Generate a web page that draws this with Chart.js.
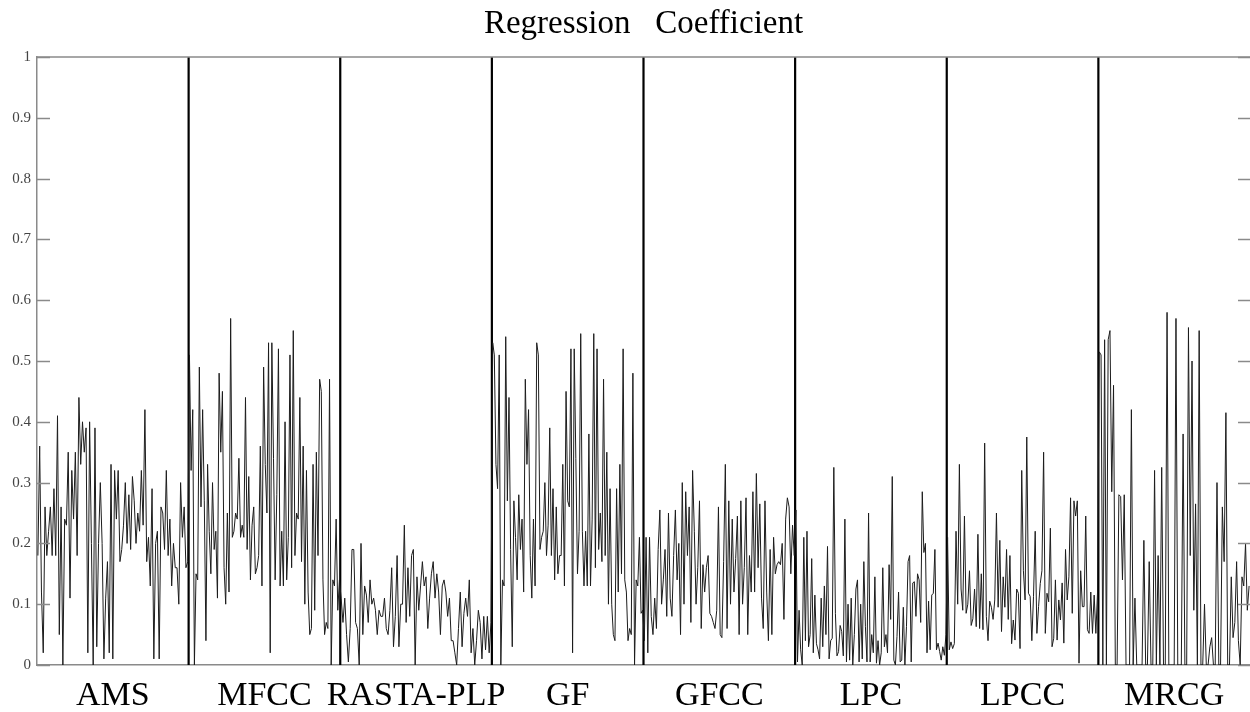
<!DOCTYPE html>
<html>
<head>
<meta charset="utf-8">
<script src="https://cdn.jsdelivr.net/npm/chart.js@4.4.1/dist/chart.umd.min.js"></script>
<style>
    html, body { margin: 0; padding: 0; background: #fff; }
    #wrap { width: 1250px; height: 712px; }
</style>
</head>
<body>
<div id="wrap"><canvas id="regChart"></canvas></div>
<script>
const featureNames = ['AMS', 'MFCC', 'RASTA-PLP', 'GF', 'GFCC', 'LPC', 'LPCC', 'MRCG'];
const yTicks = [0, 0.1, 0.2, 0.3, 0.4, 0.5, 0.6, 0.7, 0.8, 0.9, 1];

const amsValues = [0.18,0.36,0.12,0.02,0.26,0.18,0.22,0.26,0.18,0.29,0.18,0.41,0.05,0.26,0.0,0.24,0.23,0.35,0.11,0.32,0.24,0.35,0.18,0.44,0.33,0.40,0.35,0.39,0.02,0.40,0.20,0.0,0.39,0.03,0.20,0.30,0.20,0.01,0.11,0.17,0.02,0.33,0.01,0.32,0.24,0.32,0.17,0.19,0.23,0.30,0.20,0.28,0.19,0.31,0.27,0.20,0.25,0.22,0.32,0.23,0.42,0.17,0.21,0.13,0.29,0.01,0.20,0.22,0.01,0.26,0.25,0.19,0.32,0.18,0.24,0.13,0.20,0.16,0.16,0.10,0.30,0.21,0.26,0.16,0.17];
const mfccValues = [0.51,0.32,0.42,0.0,0.15,0.14,0.49,0.26,0.42,0.27,0.04,0.33,0.22,0.15,0.30,0.19,0.22,0.11,0.48,0.35,0.45,0.16,0.10,0.25,0.12,0.57,0.21,0.22,0.25,0.24,0.34,0.21,0.23,0.21,0.44,0.19,0.31,0.14,0.23,0.26,0.15,0.16,0.18,0.36,0.13,0.49,0.33,0.25,0.53,0.02,0.53,0.34,0.14,0.28,0.52,0.13,0.22,0.13,0.40,0.14,0.21,0.51,0.16,0.55,0.18,0.25,0.24,0.44,0.17,0.36,0.10,0.32,0.12,0.05,0.06,0.33,0.09,0.35,0.18,0.47,0.45,0.14,0.05,0.07,0.06,0.47,0.0,0.14,0.13,0.24,0.09,0.14];
const rastaValues = [0.11,0.07,0.11,0.05,0.005,0.06,0.19,0.19,0.07,0.06,0.0,0.20,0.05,0.13,0.115,0.07,0.14,0.10,0.11,0.09,0.05,0.09,0.08,0.08,0.11,0.06,0.05,0.09,0.16,0.03,0.08,0.18,0.03,0.10,0.10,0.23,0.07,0.16,0.08,0.18,0.19,0.0,0.145,0.09,0.13,0.17,0.13,0.145,0.06,0.11,0.15,0.17,0.11,0.15,0.12,0.05,0.13,0.14,0.12,0.08,0.11,0.04,0.04,0.02,0.0,0.06,0.12,0.03,0.085,0.11,0.08,0.14,0.02,0.06,0.0,0.04,0.09,0.07,0.01,0.08,0.025,0.08,0.02,0.07];
const gfValues = [0.53,0.51,0.33,0.29,0.51,0.0,0.14,0.13,0.54,0.27,0.44,0.19,0.03,0.27,0.21,0.14,0.28,0.19,0.24,0.12,0.47,0.33,0.42,0.18,0.11,0.24,0.13,0.53,0.51,0.19,0.21,0.22,0.30,0.18,0.23,0.39,0.18,0.29,0.14,0.26,0.15,0.18,0.18,0.33,0.13,0.45,0.27,0.26,0.52,0.02,0.52,0.34,0.15,0.22,0.545,0.22,0.13,0.22,0.13,0.38,0.13,0.24,0.545,0.16,0.52,0.19,0.25,0.17,0.47,0.18,0.35,0.10,0.29,0.10,0.05,0.04,0.29,0.12,0.33,0.15,0.52,0.14,0.12,0.04,0.06,0.05,0.48,0.0,0.14,0.13,0.21,0.085,0.09];
const gfccValues = [0.04,0.21,0.02,0.21,0.08,0.05,0.11,0.06,0.19,0.255,0.10,0.14,0.19,0.08,0.25,0.11,0.08,0.18,0.255,0.14,0.20,0.05,0.30,0.10,0.285,0.18,0.26,0.07,0.32,0.22,0.10,0.16,0.27,0.06,0.165,0.12,0.16,0.18,0.085,0.08,0.07,0.06,0.09,0.26,0.05,0.045,0.17,0.33,0.06,0.27,0.10,0.24,0.12,0.175,0.245,0.05,0.27,0.10,0.16,0.275,0.05,0.18,0.12,0.285,0.12,0.315,0.16,0.265,0.11,0.06,0.27,0.12,0.04,0.19,0.05,0.21,0.15,0.165,0.17,0.165,0.20,0.075,0.24,0.275,0.26,0.15,0.23,0.18];
const lpcValues = [0.255,0.005,0.09,0.025,0.0,0.21,0.04,0.22,0.03,0.05,0.175,0.02,0.115,0.035,0.025,0.01,0.11,0.03,0.13,0.05,0.195,0.01,0.04,0.044,0.325,0.085,0.015,0.022,0.065,0.055,0.015,0.24,0.005,0.10,0.008,0.11,0.0,0.05,0.125,0.14,0.005,0.10,0.01,0.17,0.063,0.005,0.25,0.005,0.05,0.02,0.145,0.003,0.04,0.0,0.02,0.16,0.03,0.05,0.02,0.165,0.075,0.31,0.008,0.0,0.047,0.12,0.005,0.008,0.095,0.0,0.063,0.17,0.18,0.005,0.135,0.137,0.08,0.15,0.14,0.07,0.285,0.185,0.20,0.02,0.105,0.025,0.115,0.118,0.19,0.025,0.036,0.022,0.008,0.03,0.016,0.05];
const lpccValues = [0.21,0.025,0.038,0.027,0.035,0.22,0.10,0.33,0.125,0.09,0.245,0.085,0.10,0.155,0.065,0.076,0.125,0.063,0.215,0.06,0.15,0.058,0.365,0.08,0.04,0.105,0.095,0.075,0.107,0.25,0.095,0.205,0.055,0.145,0.095,0.19,0.075,0.18,0.035,0.074,0.041,0.125,0.118,0.027,0.32,0.155,0.107,0.375,0.118,0.113,0.04,0.113,0.22,0.052,0.096,0.134,0.155,0.35,0.052,0.118,0.104,0.225,0.03,0.044,0.14,0.041,0.107,0.074,0.135,0.036,0.19,0.107,0.145,0.275,0.085,0.27,0.245,0.27,0.003,0.155,0.096,0.096,0.245,0.058,0.052,0.12,0.052,0.115,0.052,0.12];
const mrcgValues = [0.515,0.51,0.0,0.535,0.0,0.535,0.55,0.285,0.46,0.0,0.0,0.28,0.277,0.14,0.28,0.0,0.0,0.0,0.42,0.0,0.11,0.0,0.0,0.0,0.0,0.205,0.0,0.0,0.17,0.0,0.0,0.32,0.0,0.18,0.0,0.325,0.0,0.0,0.58,0.0,0.0,0.0,0.0,0.57,0.0,0.0,0.0,0.38,0.0,0.0,0.555,0.18,0.5,0.09,0.265,0.0,0.55,0.0,0.0,0.10,0.0,0.0,0.03,0.045,0.0,0.0,0.30,0.0,0.0,0.26,0.17,0.415,0.0,0.0,0.145,0.045,0.07,0.17,0.04,0.0,0.145,0.13,0.2,0.09,0.13];

const segments = [amsValues, mfccValues, rastaValues, gfValues, gfccValues, lpcValues, lpccValues, mrcgValues];

// one continuous line, each feature group spread over one unit of x
function buildLinePoints() {
    const points = [];
    segments.forEach((values, k) => {
        values.forEach((v, j) => {
            points.push({ x: k + (j + 0.5) / values.length, y: v });
        });
    });
    return points;
}

// vertical separators between groups, broken by null points
function buildSeparatorPoints() {
    const points = [];
    for (let b = 1; b < featureNames.length; b++) {
        points.push({ x: b, y: 0 }, { x: b, y: 1 }, { x: b, y: null });
    }
    return points;
}

const innerTicks = {
    id: 'innerTicks',
    afterDatasetsDraw(chart) {
        const { ctx, chartArea, scales } = chart;
        ctx.save();
        ctx.strokeStyle = '#8a8a8a';
        ctx.lineWidth = 1.5;
        // top border
        ctx.beginPath();
        ctx.moveTo(chartArea.left, chartArea.top);
        ctx.lineTo(chartArea.right, chartArea.top);
        ctx.stroke();
        yTicks.forEach(t => {
            const y = Math.round(scales.y.getPixelForValue(t)) + 0.5;
            ctx.beginPath();
            ctx.moveTo(chartArea.left, y);
            ctx.lineTo(chartArea.left + 13, y);
            ctx.moveTo(chartArea.right - 12, y);
            ctx.lineTo(chartArea.right, y);
            ctx.stroke();
        });
        ctx.restore();
    }
};

const ctx = document.getElementById('regChart').getContext('2d');
new Chart(ctx, {
    type: 'line',
    data: {
        datasets: [{
            data: buildLinePoints(),
            borderColor: '#1c1c1c',
            borderWidth: 1,
            pointRadius: 0,
            tension: 0
        }, {
            data: buildSeparatorPoints(),
            borderColor: '#000',
            borderWidth: 2.2,
            pointRadius: 0,
            spanGaps: false
        }]
    },
    options: {
        responsive: true,
        maintainAspectRatio: false,
        animation: false,
        layout: { padding: 0 },
        plugins: {
            legend: { display: false },
            tooltip: { enabled: false },
            title: {
                display: true,
                text: 'Regression   Coefficient',
                fullSize: false,
                color: '#000',
                font: { family: 'Liberation Serif', size: 33, weight: 'normal', lineHeight: 1.2 },
                padding: { top: 5, bottom: 12.4 }
            }
        },
        scales: {
            x: {
                type: 'linear',
                min: 0,
                max: featureNames.length,
                afterBuildTicks: scale => {
                    scale.ticks = featureNames.map((n, i) => ({ value: i + 0.5 }));
                },
                afterFit: scale => { scale.height = 47; },
                grid: { display: false, drawTicks: false },
                border: { display: true, color: '#8a8a8a', width: 1.5 },
                ticks: {
                    autoSkip: false,
                    maxRotation: 0,
                    padding: 11,
                    color: '#000',
                    font: { family: 'Liberation Serif', size: 34 },
                    callback: v => featureNames[Math.floor(v)]
                }
            },
            y: {
                min: 0,
                max: 1,
                afterBuildTicks: scale => {
                    scale.ticks = yTicks.map(v => ({ value: v }));
                },
                afterFit: scale => { scale.width = 37; },
                grid: { display: false, drawTicks: false },
                border: { display: true, color: '#8a8a8a', width: 1.5 },
                ticks: {
                    padding: 6,
                    color: '#444',
                    font: { family: 'Liberation Serif', size: 15 },
                    callback: v => String(Math.round(v * 10) / 10)
                }
            }
        }
    },
    plugins: [innerTicks]
});
</script>
</body>
</html>
